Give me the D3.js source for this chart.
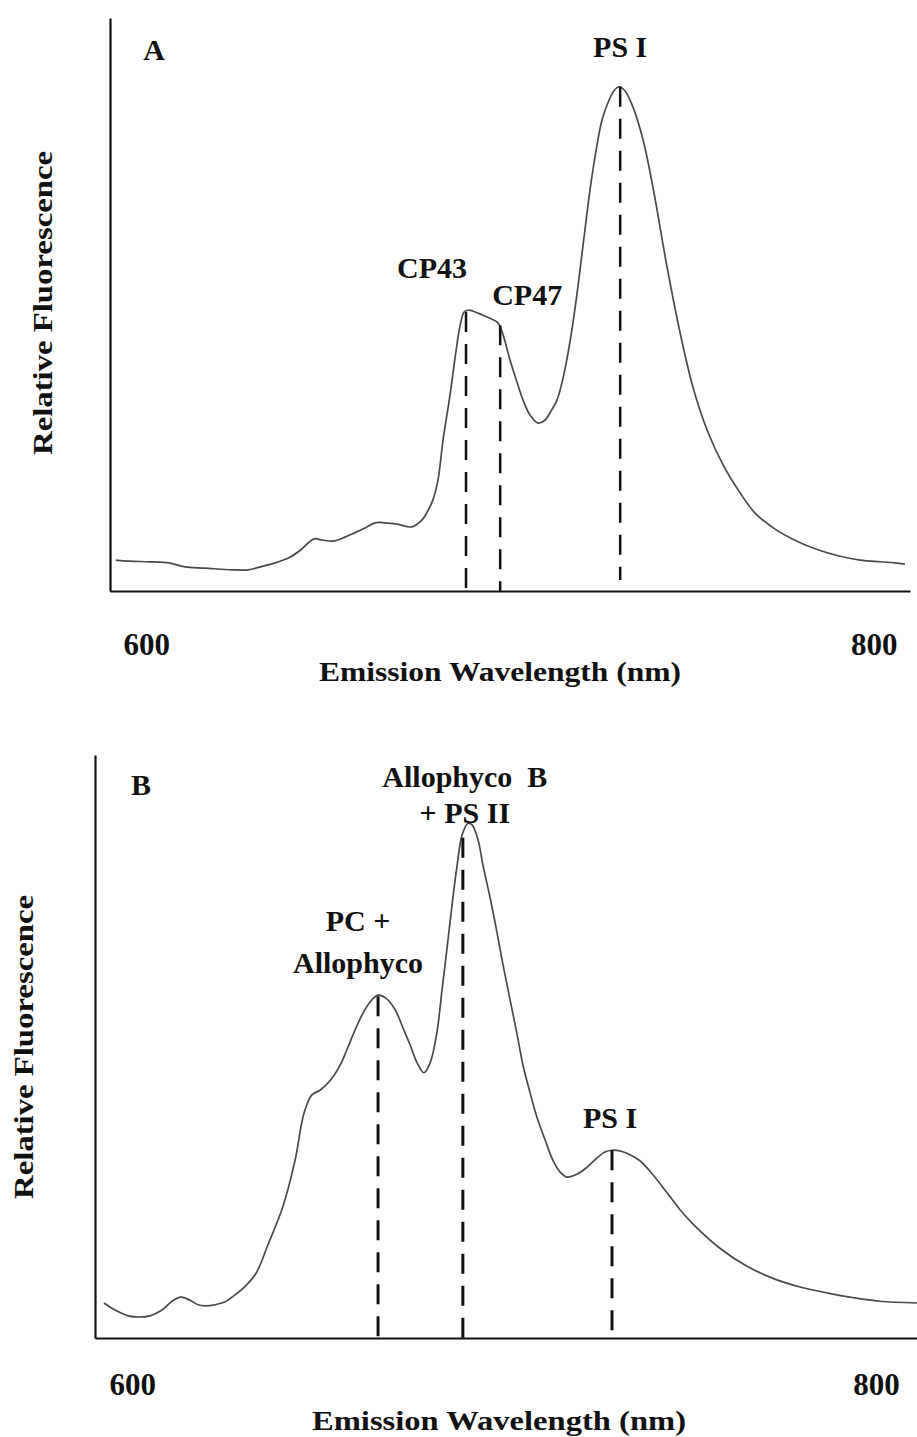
<!DOCTYPE html>
<html>
<head>
<meta charset="utf-8">
<script src="https://cdn.jsdelivr.net/npm/d3@7"></script>
<style>
  body { margin: 0; background: #fff; }
  svg text { font-family: "Liberation Serif", "Times New Roman", serif; font-weight: bold; fill: #111; }
</style>
</head>
<body>
<svg id="chart" width="917" height="1437"></svg>
<script>
// Panel A: fluorescence emission spectrum (relative units, 0-100)
const wavelengthA = [591.6, 595.5, 601.0, 606.2, 610.6, 616.1, 623.6, 628.0, 631.3, 635.4, 639.5, 642.5,
  646.1, 648.3, 651.3, 654.6, 657.1, 660.1, 662.9, 665.6, 668.7, 673.1, 675.8, 677.5, 678.8, 680.2,
  681.6, 683.5, 685.2, 686.3, 687.4, 688.5, 690.4, 692.3, 694.5, 696.7, 698.1, 700.0, 701.9, 703.6,
  705.5, 707.7, 709.6, 711.0, 712.9, 714.6, 716.5, 718.2, 720.1, 722.0, 723.7, 725.3, 727.0, 728.6,
  730.0, 731.6, 733.8, 736.6, 739.3, 743.2, 746.8, 750.3, 754.2, 758.6, 763.3, 767.4, 772.9, 778.9,
  784.7, 790.5, 796.3, 801.8, 805.9, 808.6];
const fluorA = [5.4, 5.2, 5.1, 4.9, 4.2, 4.0, 3.7, 3.7, 4.2, 4.9, 5.9, 7.2,
  9.1, 8.9, 8.7, 9.4, 10.1, 11.0, 11.9, 11.9, 11.7, 11.2, 12.4, 14.1, 15.9, 19.4,
  26.4, 34.2, 42.1, 46.4, 48.7, 49.0, 48.7, 48.2, 47.6, 46.8, 44.7, 40.3, 36.5, 33.3,
  30.7, 29.3, 29.8, 31.1, 33.3, 37.2, 43.5, 50.8, 60.4, 70.0, 77.0, 82.2, 85.3, 87.3,
  88.0, 87.3, 84.5, 78.7, 70.5, 56.5, 45.0, 35.6, 28.1, 22.0, 17.1, 13.6, 10.8, 8.7,
  7.2, 6.1, 5.4, 5.1, 4.9, 4.7];

// Panel B
const wavelengthB = [592.4, 595.4, 598.9, 601.8, 604.8, 608.0, 610.7, 613.1, 615.5, 617.7, 619.6, 622.3,
  625.0, 626.8, 630.1, 633.3, 636.5, 640.5, 643.8, 646.2, 648.3, 650.5, 653.4, 655.9, 657.7, 659.9,
  661.8, 663.9, 666.1, 668.2, 670.7, 672.8, 674.7, 676.6, 678.4, 680.1, 681.9, 683.3, 684.6, 686.0,
  687.3, 688.7, 690.3, 691.4, 693.0, 694.3, 696.2, 698.1, 699.7, 701.6, 703.5, 705.1, 707.0, 708.8,
  711.0, 713.1, 715.0, 716.9, 719.6, 722.3, 725.0, 727.1, 729.0, 731.1, 733.3, 736.5, 740.0, 743.8,
  747.3, 751.0, 758.0, 765.3, 772.8, 779.8, 787.1, 794.0, 801.0, 811.0];
const fluorB = [6.0, 4.8, 3.8, 3.6, 3.8, 4.8, 6.3, 7.0, 6.5, 5.7, 5.5, 5.7,
  6.2, 7.0, 8.7, 11.1, 16.0, 22.5, 30.5, 38.6, 41.7, 42.5, 44.3, 46.8, 49.4, 52.8,
  55.4, 57.6, 58.8, 58.3, 56.3, 53.2, 50.3, 47.2, 45.5, 47.2, 52.3, 59.7, 66.6, 74.3,
  80.8, 86.3, 88.3, 88.0, 85.4, 81.1, 75.6, 69.5, 64.0, 58.0, 52.0, 46.7, 42.0, 37.9,
  34.0, 30.5, 28.5, 27.6, 28.1, 29.3, 30.9, 31.9, 32.2, 32.1, 31.6, 30.4, 28.0, 24.9,
  22.0, 19.4, 15.4, 12.3, 10.1, 8.7, 7.7, 6.9, 6.3, 6.0];

// peak markers
const peakNamesA = [["CP43"], ["CP47"], ["PS I"]];
const peakNmA = [687.9, 697.3, 730.3];
const peakTopA = [48.7, 46.4, 88.0];
const peakBottomA = [0, 0, 1.9];

const peakNamesB = [["PC +", "Allophyco"], ["Allophyco  B", "+ PS II"], ["PS I"]];
const peakNmB = [666.1, 688.9, 729.0];
const peakTopB = [58.6, 85.8, 32.2];
const peakBottomB = [0, 0, 0];

const tickValues = [600, 800];
const xTitle = "Emission Wavelength (nm)";
const yTitle = "Relative Fluorescence";

const svg = d3.select("#chart");

function panel(opt) {
  const x = d3.scaleLinear().domain([590, opt.xMax]).range([opt.left, opt.right]);
  const y = d3.scaleLinear().domain([0, 100]).range([opt.bottom, opt.top]);
  const g = svg.append("g");

  // x axis: line plus the two wavelength labels far below it
  const xAxis = g.append("g")
    .attr("transform", `translate(0,${opt.bottom})`)
    .call(d3.axisBottom(x).tickValues(tickValues).tickSize(0).tickSizeOuter(0).tickFormat(d3.format("d")));
  xAxis.select(".domain").attr("stroke", "#111").attr("stroke-width", 2.2);
  xAxis.selectAll("text")
    .attr("dy", 0)
    .attr("y", opt.tickY - opt.bottom)
    .attr("font-size", 31)
    .attr("font-family", "Liberation Serif")
    .attr("fill", "#111");

  const yAxis = g.append("g")
    .attr("transform", `translate(${opt.left},0)`)
    .call(d3.axisLeft(y).tickValues([]).tickSizeOuter(0));
  yAxis.select(".domain").attr("stroke", "#111").attr("stroke-width", 2.2);

  g.append("text")
    .attr("x", (opt.left + opt.right) / 2 + opt.xTitleShift)
    .attr("y", opt.xTitleY)
    .attr("text-anchor", "middle")
    .attr("font-size", 28)
    .attr("textLength", opt.xTitleLen)
    .attr("lengthAdjust", "spacingAndGlyphs")
    .text(xTitle);

  g.append("text")
    .attr("transform", `translate(${opt.yTitleX},${opt.yTitleY}) rotate(-90)`)
    .attr("text-anchor", "middle")
    .attr("font-size", 28)
    .attr("textLength", 304)
    .attr("lengthAdjust", "spacingAndGlyphs")
    .text(yTitle);

  g.append("text")
    .attr("x", opt.letterX)
    .attr("y", opt.letterY)
    .attr("text-anchor", "middle")
    .attr("font-size", 30)
    .text(opt.letter);

  // spectrum
  const pts = d3.zip(opt.wl, opt.fl);
  g.append("path")
    .datum(pts)
    .attr("fill", "none")
    .attr("stroke", "#4a4a4a")
    .attr("stroke-width", 1.7)
    .attr("d", d3.line().x(d => x(d[0])).y(d => y(d[1])).curve(d3.curveCatmullRom.alpha(0.5)));

  // dashed peak markers
  opt.peakNm.forEach((nm, i) => {
    g.append("line")
      .attr("x1", x(nm)).attr("x2", x(nm))
      .attr("y1", y(opt.peakTop[i])).attr("y2", y(opt.peakBottom[i]))
      .attr("stroke", "#111")
      .attr("stroke-width", opt.dashWidth)
      .attr("stroke-dasharray", "20,12");

    const lab = opt.labelPos[i];
    opt.peakNames[i].forEach((line, j) => {
      g.append("text")
        .attr("x", x(nm) + lab.dx)
        .attr("y", y(opt.peakTop[i]) + lab.dy + j * lab.lh)
        .attr("text-anchor", "middle")
        .attr("font-size", 30)
        .attr("xml:space", "preserve")
        .text(line);
    });
  });
}

panel({
  left: 110, right: 910, top: 18, bottom: 591, xMax: 810,
  tickY: 655, xTitleY: 681, xTitleLen: 362, xTitleShift: -10,
  yTitleX: 52, yTitleY: 303,
  letter: "A", letterX: 154, letterY: 60,
  wl: wavelengthA, fl: fluorA,
  peakNm: peakNmA, peakTop: peakTopA, peakBottom: peakBottomA, peakNames: peakNamesA,
  dashWidth: 2.5,
  labelPos: [{ dx: -34, dy: -34, lh: 0 }, { dx: 27, dy: -20, lh: 0 }, { dx: 0, dy: -30, lh: 0 }]
});

panel({
  left: 95, right: 917, top: 755, bottom: 1338, xMax: 811,
  tickY: 1395, xTitleY: 1430, xTitleLen: 374, xTitleShift: -7,
  yTitleX: 33, yTitleY: 1047,
  letter: "B", letterX: 141, letterY: 795,
  wl: wavelengthB, fl: fluorB,
  peakNm: peakNmB, peakTop: peakTopB, peakBottom: peakBottomB, peakNames: peakNamesB,
  dashWidth: 3,
  labelPos: [{ dx: -20, dy: -65, lh: 42 }, { dx: 2, dy: -51, lh: 36 }, { dx: -2, dy: -22, lh: 0 }]
});
</script>
</body>
</html>
